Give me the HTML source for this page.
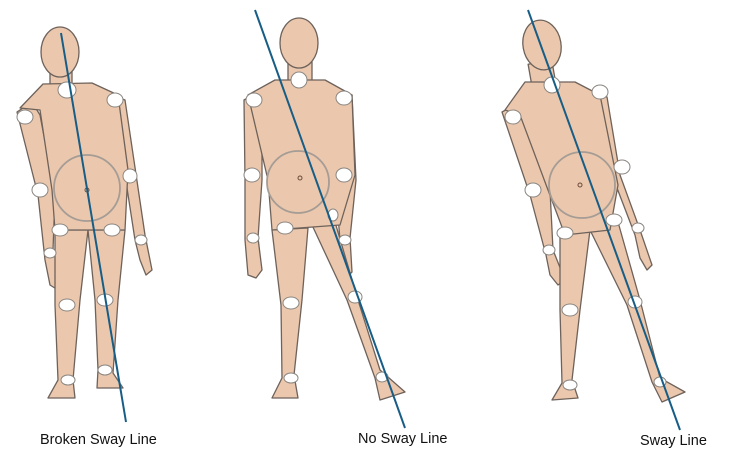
<!DOCTYPE html>
<html><head><meta charset="utf-8"><style>
html,body{margin:0;padding:0;background:#fff;width:729px;height:464px;overflow:hidden}
svg{display:block}
.s{fill:#ebc8ad;stroke:#6e625b;stroke-width:1.3;stroke-linejoin:round}
.b{fill:#ebc8ad;stroke:#a59c95;stroke-width:1.8}
.j{fill:#fff;stroke:#8a8580;stroke-width:1}
text{font-family:"Liberation Sans",sans-serif;font-size:14.5px;fill:#111}
</style></head><body>
<svg width="729" height="464" viewBox="0 0 729 464" xmlns="http://www.w3.org/2000/svg">
<g>
<rect class="s" x="50" y="68" width="22" height="20"/>
<ellipse class="s" cx="60" cy="52" rx="19" ry="25"/>
<polygon class="s" points="17,112 32,102 40,115 55,195 53,250 62,280 58,290 50,285 45,260 38,195"/>
<polygon class="s" points="108,93 125,100 145,235 152,270 146,275 140,260 135,240 125,175 110,108"/>
<polygon class="s" points="55,230 88,230 80,300 73,380 75,398 48,398 58,380 55,305"/>
<polygon class="s" points="88,230 125,230 118,300 113,373 123,388 97,388 98,370 95,300"/>
<polygon class="s" points="43,84 92,83 118,95 128,170 125,230 55,230 52,190 40,110 20,108"/>
<circle class="b" cx="87" cy="188" r="33"/>
<circle cx="87" cy="190" r="2" fill="none" stroke="#6b4a3a"/>
<g class="j"><ellipse cx="67" cy="90" rx="9" ry="8"/><ellipse cx="25" cy="117" rx="8" ry="7"/><ellipse cx="115" cy="100" rx="8" ry="7"/><ellipse cx="40" cy="190" rx="8" ry="7"/><ellipse cx="130" cy="176" rx="7" ry="7"/><ellipse cx="60" cy="230" rx="8" ry="6"/><ellipse cx="112" cy="230" rx="8" ry="6"/><ellipse cx="50" cy="253" rx="6" ry="5"/><ellipse cx="141" cy="240" rx="6" ry="5"/><ellipse cx="67" cy="305" rx="8" ry="6"/><ellipse cx="105" cy="300" rx="8" ry="6"/><ellipse cx="68" cy="380" rx="7" ry="5"/><ellipse cx="105" cy="370" rx="7" ry="5"/></g>
</g>
<g>
<rect class="s" x="288" y="62" width="24" height="22"/>
<ellipse class="s" cx="299" cy="43" rx="19" ry="25"/>
<polygon class="s" points="244,100 258,92 262,110 262,180 258,238 262,270 256,278 248,275 245,240 245,180"/>
<polygon class="s" points="338,95 352,95 356,180 350,238 352,272 346,278 340,265 340,240 335,180"/>
<polygon class="s" points="272,230 308,228 302,300 294,375 298,398 272,398 282,378 281,305"/>
<polygon class="s" points="312,225 335,222 358,300 380,370 405,392 380,400 375,378 347,300"/>
<polygon class="s" points="275,80 325,80 352,95 355,175 340,225 272,230 268,180 248,95"/>
<circle class="b" cx="298" cy="182" r="31"/>
<circle cx="300" cy="178" r="2" fill="none" stroke="#6b4a3a"/>
<g class="j"><ellipse cx="299" cy="80" rx="8" ry="8"/><ellipse cx="254" cy="100" rx="8" ry="7"/><ellipse cx="344" cy="98" rx="8" ry="7"/><ellipse cx="252" cy="175" rx="8" ry="7"/><ellipse cx="344" cy="175" rx="8" ry="7"/><ellipse cx="285" cy="228" rx="8" ry="6"/><ellipse cx="333" cy="215" rx="5" ry="6"/><ellipse cx="253" cy="238" rx="6" ry="5"/><ellipse cx="345" cy="240" rx="6" ry="5"/><ellipse cx="291" cy="303" rx="8" ry="6"/><ellipse cx="355" cy="297" rx="7" ry="6"/><ellipse cx="291" cy="378" rx="7" ry="5"/><ellipse cx="382" cy="377" rx="6" ry="5"/></g>
</g>
<g>
<rect class="s" x="530" y="62" width="24" height="24" transform="rotate(-10 542 74)"/>
<ellipse class="s" cx="542" cy="45" rx="19" ry="25" transform="rotate(-10 542 45)"/>
<polygon class="s" points="502,112 515,105 530,125 550,190 553,250 565,280 558,285 550,275 546,255 530,195"/>
<polygon class="s" points="595,92 607,97 620,175 640,230 652,265 647,270 640,258 635,235 612,175"/>
<polygon class="s" points="560,232 590,230 580,310 572,380 578,398 552,400 562,383 560,310"/>
<polygon class="s" points="590,230 618,222 640,300 660,378 685,392 662,402 652,382 627,305"/>
<polygon class="s" points="525,82 575,82 600,95 618,185 610,230 565,235 548,190 520,115 505,110"/>
<circle class="b" cx="582" cy="185" r="33"/>
<circle cx="580" cy="185" r="2" fill="none" stroke="#6b4a3a"/>
<g class="j"><ellipse cx="552" cy="85" rx="8" ry="8"/><ellipse cx="513" cy="117" rx="8" ry="7"/><ellipse cx="600" cy="92" rx="8" ry="7"/><ellipse cx="533" cy="190" rx="8" ry="7"/><ellipse cx="622" cy="167" rx="8" ry="7"/><ellipse cx="565" cy="233" rx="8" ry="6"/><ellipse cx="614" cy="220" rx="8" ry="6"/><ellipse cx="549" cy="250" rx="6" ry="5"/><ellipse cx="638" cy="228" rx="6" ry="5"/><ellipse cx="570" cy="310" rx="8" ry="6"/><ellipse cx="635" cy="302" rx="7" ry="6"/><ellipse cx="570" cy="385" rx="7" ry="5"/><ellipse cx="660" cy="382" rx="6" ry="5"/></g>
</g>
<g stroke="#175d86" stroke-width="2">
<line x1="61" y1="33" x2="126" y2="422"/>
<line x1="255" y1="10" x2="405" y2="428"/>
<line x1="528" y1="10" x2="680" y2="430"/>
</g>
<text x="40" y="444">Broken Sway Line</text>
<text x="358" y="443">No Sway Line</text>
<text x="640" y="445">Sway Line</text>
</svg>
</body></html>
